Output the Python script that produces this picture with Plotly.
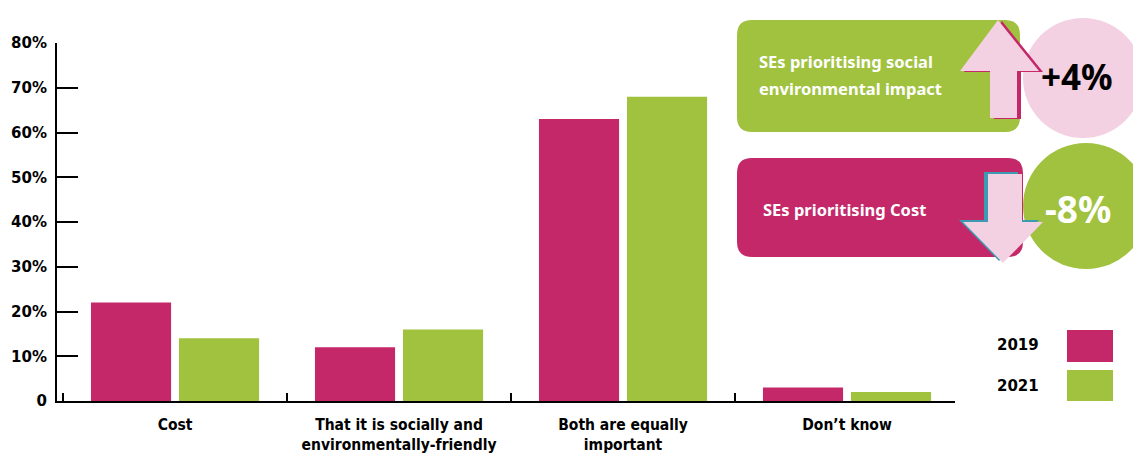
import plotly.graph_objects as go

# Survey data: what social enterprises prioritise when choosing suppliers
categories = [
    "Cost",
    "That it is socially and<br>environmentally-friendly",
    "Both are equally<br>important",
    "Don\u2019t know",
]
values_2019 = [22, 12, 63, 3]
values_2021 = [14, 16, 68, 2]
years = ["2019", "2021"]

y_ticks = [0, 10, 20, 30, 40, 50, 60, 70, 80]
y_tick_labels = ["0", "10%", "20%", "30%", "40%", "50%", "60%", "70%", "80%"]

MAGENTA = "#c42869"
GREEN = "#a0c23f"
LIGHT_PINK = "#f3d0e2"
TEAL = "#3b9bb2"

W, H = 1133, 457
PL, PR, PT, PB = 57, 955, 43, 401  # plot area in pixels


def fx(x):
    return (x - PL) / (PR - PL)


def fy(y):
    return (PB - y) / (PB - PT)


def poly(points):
    d = "M " + " L ".join(f"{fx(x):.5f},{fy(y):.5f}" for x, y in points) + " Z"
    return d


def rrect(x0, y0, x1, y1, r):
    def p(x, y):
        return f"{fx(x):.5f},{fy(y):.5f}"
    return (
        f"M {p(x0 + r, y0)} L {p(x1 - r, y0)} Q {p(x1, y0)} {p(x1, y0 + r)} "
        f"L {p(x1, y1 - r)} Q {p(x1, y1)} {p(x1 - r, y1)} "
        f"L {p(x0 + r, y1)} Q {p(x0, y1)} {p(x0, y1 - r)} "
        f"L {p(x0, y0 + r)} Q {p(x0, y0)} {p(x0 + r, y0)} Z"
    )


def circle(cx, cy, r, color):
    return dict(type="circle", xref="paper", yref="paper",
                x0=fx(cx - r), x1=fx(cx + r), y0=fy(cy + r), y1=fy(cy - r),
                fillcolor=color, line=dict(width=0), layer="above")


def path(d, color):
    return dict(type="path", xref="paper", yref="paper", path=d,
                fillcolor=color, line=dict(width=0), layer="above")


def shift(points, dx, dy):
    return [(x + dx, y + dy) for x, y in points]


fig = go.Figure()
fig.add_trace(go.Bar(x=categories, y=values_2019, name=years[0],
                     marker=dict(color=MAGENTA, line=dict(width=0))))
fig.add_trace(go.Bar(x=categories, y=values_2021, name=years[1],
                     marker=dict(color=GREEN, line=dict(width=0))))

# Arrow outlines
up_arrow = [(998, 20), (1039, 71), (1017, 71), (1017, 118),
            (990, 118), (990, 71), (960, 71)]
down_arrow = [(988, 174), (1022, 174), (1022, 222), (1043, 222),
              (1003, 263), (963, 222), (988, 222)]

shapes = [
    circle(1083, 78, 60, LIGHT_PINK),
    path(rrect(737, 20, 1020, 132, 15), GREEN),
    path(poly(shift(up_arrow, 4, 1)), MAGENTA),
    path(poly(up_arrow), LIGHT_PINK),
    circle(1086, 206, 63, GREEN),
    path(rrect(737, 158, 1023, 257, 15), MAGENTA),
    path(poly(shift(down_arrow, -4, -2)), TEAL),
    path(poly(down_arrow), LIGHT_PINK),
    # legend swatches
    dict(type="rect", xref="paper", yref="paper",
         x0=fx(1067), x1=fx(1113), y0=fy(362), y1=fy(330),
         fillcolor=MAGENTA, line=dict(width=0)),
    dict(type="rect", xref="paper", yref="paper",
         x0=fx(1067), x1=fx(1113), y0=fy(401), y1=fy(370),
         fillcolor=GREEN, line=dict(width=0)),
]

CALLOUT_FONT = "Noto Sans"
annotations = [
    dict(x=fx(757), y=fy(61), text="<b>SEs prioritising social</b>",
         xanchor="left", yanchor="middle", font=dict(family=CALLOUT_FONT, size=16.5, color="white")),
    dict(x=fx(757), y=fy(88), text="<b>environmental impact</b>",
         xanchor="left", yanchor="middle", font=dict(family=CALLOUT_FONT, size=16.5, color="white")),
    dict(x=fx(1077), y=fy(77), text="<b>+4%</b>",
         xanchor="center", yanchor="middle", font=dict(family=CALLOUT_FONT, size=35, color="black")),
    dict(x=fx(761), y=fy(209), text="<b>SEs prioritising Cost</b>",
         xanchor="left", yanchor="middle", font=dict(family=CALLOUT_FONT, size=16.5, color="white")),
    dict(x=fx(1078), y=fy(208), text="<b>-8%</b>",
         xanchor="center", yanchor="middle", font=dict(family=CALLOUT_FONT, size=37, color="white")),
    dict(x=fx(1018), y=fy(345), text=f"<b>{years[0]}</b>",
         xanchor="center", yanchor="middle", font=dict(family="DejaVu Sans", size=15, color="black")),
    dict(x=fx(1018), y=fy(386), text=f"<b>{years[1]}</b>",
         xanchor="center", yanchor="middle", font=dict(family="DejaVu Sans", size=15, color="black")),
]
for a in annotations:
    a.update(xref="paper", yref="paper", showarrow=False)

fig.update_layout(
    width=W, height=H,
    margin=dict(l=PL, r=W - PR, t=PT, b=H - PB, pad=0),
    paper_bgcolor="white", plot_bgcolor="white",
    barmode="group", bargap=0.214, bargroupgap=0.09,
    showlegend=False,
    shapes=shapes, annotations=annotations,
    xaxis=dict(
        range=[-0.527, 3.482], showline=True, linecolor="black", linewidth=2,
        ticks="inside", tickson="boundaries", ticklen=8, tickwidth=2, tickcolor="black",
        showgrid=False, zeroline=False, automargin=False,
        tickfont=dict(family="DejaVu Sans Condensed", size=15.5, color="black"),
        tickmode="array", tickvals=categories,
        ticktext=[f"<b>{c}</b>" for c in categories],
        ticklabelstandoff=8,
    ),
    yaxis=dict(
        range=[0, 80], showline=True, linecolor="black", linewidth=2,
        ticks="inside", ticklen=21, tickwidth=2, tickcolor="black",
        showgrid=False, zeroline=False, automargin=False,
        tickmode="array", tickvals=y_ticks,
        ticktext=[f"<b>{t}</b>" for t in y_tick_labels],
        tickfont=dict(family="DejaVu Sans", size=15, color="black"),
        ticklabelstandoff=5,
    ),
)

fig.write_html("out.html")
